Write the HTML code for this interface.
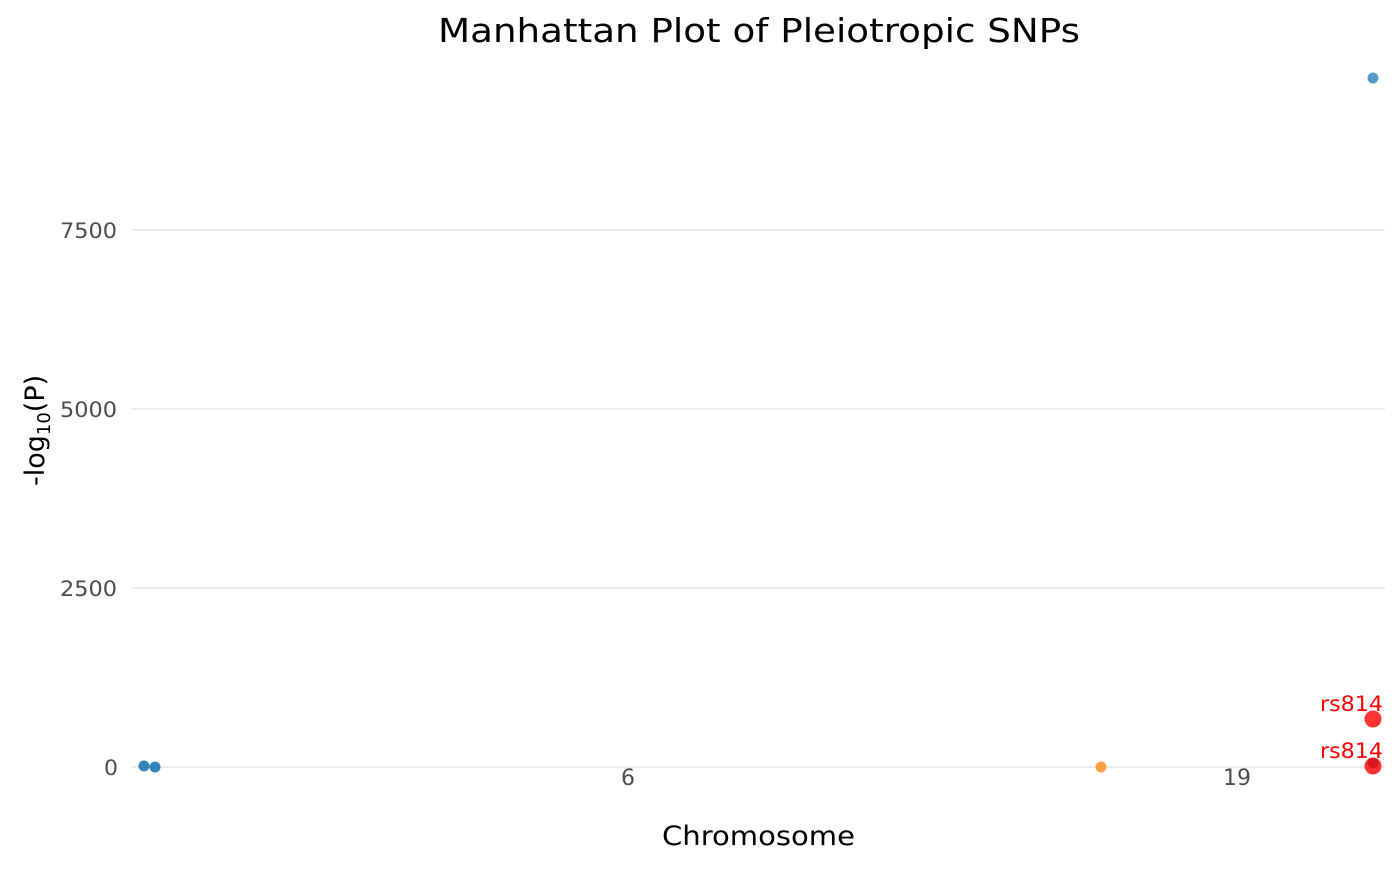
<!DOCTYPE html>
<html><head><meta charset="utf-8"><style>html,body{margin:0;padding:0;background:#fff}</style></head>
<body>
<svg width="1400" height="866" xmlns="http://www.w3.org/2000/svg" font-family="DejaVu Sans, Liberation Sans, sans-serif">
<rect width="1400" height="866" fill="#fff"/>
<g stroke="#ebebeb" stroke-width="2">
<line x1="132" y1="230" x2="1385" y2="230"/>
<line x1="132" y1="409" x2="1385" y2="409"/>
<line x1="132" y1="588" x2="1385" y2="588"/>
<line x1="132" y1="767" x2="1385" y2="767"/>
</g>
<text x="438" y="42" font-size="33" textLength="642" lengthAdjust="spacingAndGlyphs" fill="#000">Manhattan Plot of Pleiotropic SNPs</text>
<g font-size="21" fill="#4d4d4d">
<text x="60" y="238" textLength="57" lengthAdjust="spacingAndGlyphs">7500</text>
<text x="60" y="417" textLength="57" lengthAdjust="spacingAndGlyphs">5000</text>
<text x="60" y="596" textLength="57" lengthAdjust="spacingAndGlyphs">2500</text>
<text x="104" y="775" textLength="14" lengthAdjust="spacingAndGlyphs">0</text>
</g>
<g font-size="22" fill="#4d4d4d" text-anchor="middle">
<text x="628" y="785">6</text>
<text x="1237" y="785">19</text>
</g>
<text x="662" y="845" font-size="27" textLength="193" lengthAdjust="spacingAndGlyphs" fill="#000">Chromosome</text>
<text transform="translate(44,486) rotate(-90)" font-size="27" fill="#000">-log<tspan font-size="18" dy="6">10</tspan><tspan dy="-6">(P)</tspan></text>
<g fill="#1f77b4" fill-opacity="0.9">
<circle cx="144" cy="766" r="5.5"/>
<circle cx="155" cy="767" r="5.5"/>
<circle cx="1373" cy="78" r="5.5" fill-opacity="0.75"/>
<circle cx="1373" cy="763" r="5.5"/>
</g>
<circle cx="1101" cy="767" r="5.5" fill="#ff7f0e" fill-opacity="0.75"/>
<g fill="#ff0000" fill-opacity="0.8">
<circle cx="1373" cy="719" r="8.5"/>
<circle cx="1373" cy="766" r="8.5"/>
</g>
<g font-size="21" fill="#ff0000">
<text x="1320" y="711" textLength="63" lengthAdjust="spacingAndGlyphs">rs814</text>
<text x="1320" y="758" textLength="63" lengthAdjust="spacingAndGlyphs">rs814</text>
</g>
</svg>
</body></html>
